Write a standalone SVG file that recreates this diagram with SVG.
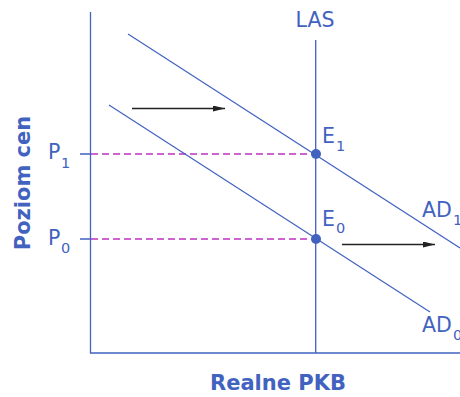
<svg xmlns="http://www.w3.org/2000/svg" width="460" height="397" viewBox="0 0 460 397">
<style>
.ax{stroke:#4262c0;stroke-width:1.3;fill:none}
.cv{stroke:#4262c0;stroke-width:1.2;fill:none}
.ds{stroke:#c030c0;stroke-width:1.3;stroke-dasharray:7,4;fill:none}
.ar{stroke:#222;stroke-width:1.3;fill:none;marker-end:url(#ah)}
.t{font-family:"DejaVu Sans",sans-serif;font-size:20.5px;fill:#4262c0}
.s{font-family:"DejaVu Sans",sans-serif;font-size:14.5px;fill:#4262c0}
.b{font-family:"DejaVu Sans",sans-serif;font-size:21px;font-weight:bold;fill:#4262c0}
</style>
<defs>
<marker id="ah" markerWidth="12" markerHeight="6" refX="12" refY="3" orient="auto" markerUnits="userSpaceOnUse">
<path d="M0,0 L12,3 L0,6 Z" fill="#222"/>
</marker>
</defs>
<g id="connectors">
<path class="ax" d="M90.5,12 V353 H460"/>
<path class="ax" d="M80,154 H90.5 M80,239 H90.5"/>
<path class="ds" d="M91,154 H316 M91,239 H316"/>
<line class="ax" x1="315.7" y1="40" x2="315.7" y2="353"/>
<line class="cv" x1="128" y1="34" x2="460" y2="248"/>
<line class="cv" x1="109" y1="105" x2="430" y2="312"/>
<line class="ar" x1="132" y1="108.5" x2="225" y2="108.5"/>
<line class="ar" x1="342" y1="244.5" x2="435" y2="244.5"/>
</g>
<g id="E1"><circle cx="316" cy="154" r="5" fill="#4262c0"/><text class="t" x="322" y="143">E</text><text class="s" x="336" y="151">1</text></g>
<g id="E0"><circle cx="316" cy="239" r="5" fill="#4262c0"/><text class="t" x="322" y="226">E</text><text class="s" x="336" y="233">0</text></g>
<g id="P1"><text class="t" x="48" y="159">P</text><text class="s" x="61" y="168">1</text></g>
<g id="P0"><text class="t" x="48" y="245">P</text><text class="s" x="61" y="253">0</text></g>
<g id="LAS"><text class="t" x="315" y="27" text-anchor="middle">LAS</text></g>
<g id="AD1"><text class="t" x="422" y="217">AD</text><text class="s" x="453" y="225">1</text></g>
<g id="AD0"><text class="t" x="422" y="332">AD</text><text class="s" x="453" y="340">0</text></g>
<g id="ylabel"><text class="b" transform="translate(30,183) rotate(-90)" text-anchor="middle">Poziom cen</text></g>
<g id="xlabel"><text class="b" x="278" y="390" text-anchor="middle">Realne PKB</text></g>
</svg>
